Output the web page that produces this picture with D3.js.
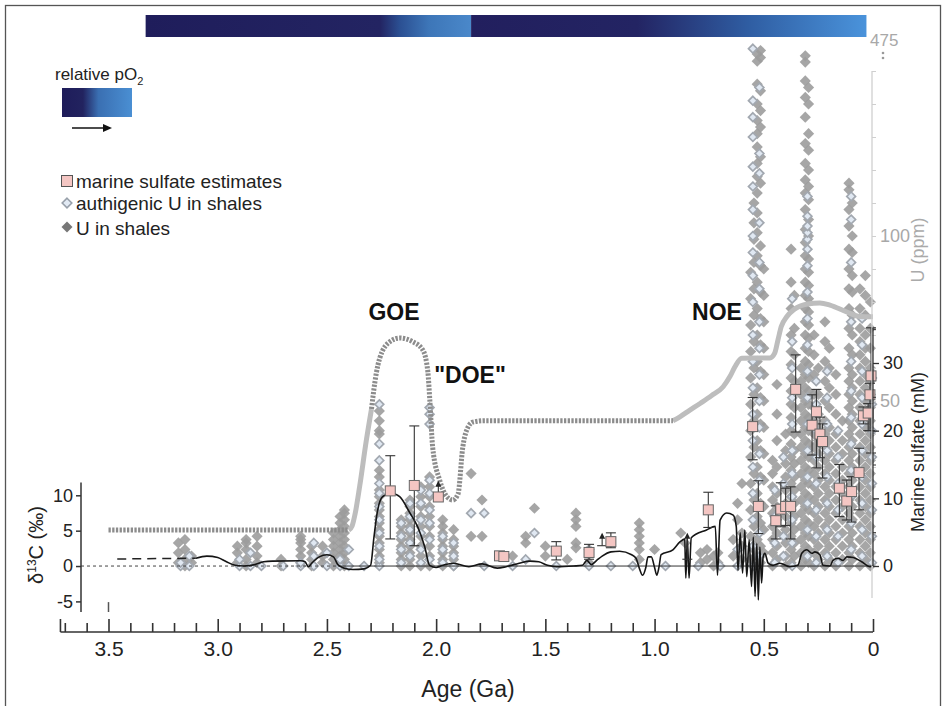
<!DOCTYPE html>
<html>
<head>
<meta charset="utf-8">
<script src="https://cdn.jsdelivr.net/npm/d3@7"></script>
<style>
  body { margin: 0; background: #fff; }
  svg { display: block; font-family: "Liberation Sans", Arial, Helvetica, sans-serif; }
</style>
</head>
<body>
<svg id="chart" width="947" height="706"></svg>
<script>
// ---- data ----
const ageTicks = [3.5, 3.0, 2.5, 2.0, 1.5, 1.0, 0.5, 0];
const d13Ticks = [-5, 0, 5, 10];
const sulfTicks = [0, 10, 20, 30];
const uLabelTicks = [50, 100];

// carbon isotope curve [age Ga, d13C permil]
const d13Dashed = [[3.46, 1.0], [3.1, 1.1]];
const d13Curve = [
  [3.1, 1.1], [3.05, 1.4], [3.0, 1.2], [2.96, 0.6], [2.92, 0.1], [2.88, 0.0], [2.83, 0.2], [2.79, 0.6],
  [2.75, 0.7], [2.62, 0.75], [2.6, 0.6], [2.585, -0.1], [2.57, 0.4], [2.535, 1.3], [2.5, 1.6], [2.47, 1.3],
  [2.45, 0.2], [2.42, -0.3], [2.38, -0.5], [2.33, -0.4], [2.3, 0.1], [2.285, 4], [2.27, 7.5], [2.245, 9.8],
  [2.205, 10.3], [2.167, 9.8], [2.12, 7.5], [2.084, 5.5], [2.052, 2.7], [2.03, 0.1], [2.0, -0.2], [1.97, 0.1],
  [1.92, 0.4], [1.85, -0.1], [1.79, 0.3], [1.72, -0.3], [1.68, -0.1], [1.62, 0.4], [1.57, 0.7], [1.53, 0.6],
  [1.49, 0.1], [1.45, -0.1], [1.37, 0], [1.33, 0.1], [1.31, 0.8], [1.29, 0.2], [1.265, 0.8], [1.24, 1.4],
  [1.2, 2.0], [1.16, 2.1], [1.105, 1.6], [1.085, 1.1], [1.07, -0.3], [1.055, -1.3], [1.04, -0.2], [1.03, 1.3],
  [1.015, 1.3], [1.0, -0.2], [0.99, -1.3], [0.98, -0.2], [0.97, 1.6], [0.916, 2.3], [0.884, 3.4], [0.862, 3.8],
  [0.857, -1.7], [0.85, 3.8], [0.842, -1.7], [0.832, 4.0], [0.762, 5.1], [0.722, 5.6], [0.712, -1.3], [0.7, 6.5],
  [0.67, 7.5], [0.64, 7.2], [0.626, 5.6], [0.618, -0.6], [0.608, 4.7], [0.597, -1.0], [0.587, 5.1], [0.578, -1.5],
  [0.567, 3.7], [0.556, -2.9], [0.548, 4.1], [0.54, -4.3], [0.532, 3.2], [0.525, -4.8], [0.518, 2.7], [0.51, -2.4],
  [0.503, 1.3], [0.495, 1.8], [0.48, 0.4], [0.458, 0.1], [0.426, 0.4], [0.38, -0.1], [0.344, 0.1], [0.326, 1.8],
  [0.303, 2.3], [0.28, 1.8], [0.266, 2.0], [0.243, 1.6], [0.229, 0.1], [0.197, 0.0], [0.183, 0.8], [0.16, 1.1],
  [0.137, 0.8], [0.12, 1.3], [0.09, 1.2], [0.052, 0.6], [0.014, -0.1], [0.0, 0.1]
];

// relative oxygen curve [age Ga, relative level 0-1]
const o2Archean = [[3.5, 0.135], [2.4, 0.135]];
const o2GoeRise = [[2.4, 0.135], [2.385, 0.15], [2.37, 0.2], [2.35, 0.3], [2.32, 0.47], [2.296, 0.59]];
const o2Proterozoic = [
  [2.296, 0.59], [2.275, 0.72], [2.258, 0.782], [2.212, 0.843], [2.167, 0.857], [2.107, 0.843], [2.061, 0.812],
  [2.038, 0.73], [2.029, 0.624], [2.016, 0.447], [1.984, 0.323], [1.95, 0.26], [1.924, 0.248], [1.9, 0.27],
  [1.878, 0.447], [1.86, 0.511], [1.832, 0.541], [1.78, 0.546], [0.916, 0.546]
];
const o2Noe = [
  [0.916, 0.546], [0.884, 0.561], [0.84, 0.585], [0.79, 0.612], [0.74, 0.64], [0.686, 0.674], [0.655, 0.712],
  [0.632, 0.749], [0.601, 0.781], [0.472, 0.782], [0.45, 0.8], [0.435, 0.85], [0.42, 0.9], [0.395, 0.937],
  [0.36, 0.965], [0.3, 0.985], [0.243, 0.989], [0.197, 0.981], [0.12, 0.955], [0.06, 0.938], [0.0, 0.937]
];

// marine sulfate estimates (mM)
const sulfAge = [2.21, 2.10, 1.99, 1.71, 1.69, 1.45, 1.30, 1.20, 0.754, 0.551, 0.525, 0.445, 0.422, 0.40, 0.377, 0.354,
  0.279, 0.259, 0.243, 0.231, 0.154, 0.12, 0.098, 0.064, 0.044, 0.022, 0.014, 0.009];
const sulfVal = [11.1, 11.9, 10.2, 1.5, 1.4, 2.2, 2.0, 3.6, 8.3, 20.6, 8.8, 6.7, 8.4, 8.8, 8.8, 26.1,
  20.8, 22.8, 19.5, 18.4, 11.5, 9.6, 11.0, 13.8, 22.2, 22.6, 25.3, 28.1];
const sulfLo = [4.0, 3.0, 10.2, 1.5, 1.4, 0.9, 1.0, 2.7, 5.7, 15.7, 4.8, 4.0, 5.8, 6.0, 4.0, 19.8,
  16.4, 14.5, 16.0, 13.0, 7.3, 6.8, 6.5, 8.3, 21.0, 20.0, 20.0, 16.7];
const sulfHi = [16.3, 20.7, 10.2, 1.5, 1.4, 3.6, 3.2, 4.9, 10.9, 24.9, 12.6, 8.9, 12.3, 11.5, 11.7, 31.2,
  25.3, 26.1, 22.0, 21.0, 15.0, 12.7, 13.2, 17.4, 23.5, 24.0, 27.0, 35.2];
// lower limits drawn as arrows
const minAge = [1.99, 1.24, 0.85];
const minFrom = [10.2, 3.0, 1.0];
const minTo = [12.3, 4.6, 4.6];

// U in shales (ppm), grouped by age
const uShales = [
  [3.18, [1, 4, 7]], [3.15, [0, 2, 5, 8]], [3.12, [1, 3]],
  [2.91, [1, 4, 6]], [2.87, [0, 2, 5, 7, 8]], [2.82, [1, 3, 6, 9]], [2.71, [0, 2]], [2.62, [1, 3, 5, 7, 8, 9]],
  [2.57, [0, 2, 4, 6]], [2.52, [1, 3, 6]], [2.47, [0, 2, 4, 6, 8, 10]], [2.44, [1, 3, 5, 7, 9, 11, 13, 15]],
  [2.42, [0, 2, 4, 6, 8, 10, 12, 14, 16, 17]],
  [2.26, [1, 3, 5, 7, 9, 11, 13, 15, 17, 19, 21, 23, 27, 29, 40, 41, 44, 47]],
  [2.16, [0, 2, 4, 6, 8, 10, 12, 14]], [2.12, [0, 2, 4, 6, 8, 10, 12, 14, 16, 18, 20]],
  [2.07, [0, 3, 6, 9, 12, 15, 18, 21, 24]], [2.03, [0, 3, 6, 9, 12, 15, 18, 21, 24, 27]],
  [1.97, [0, 2, 4, 6, 8, 10, 12, 14]], [1.92, [0, 2, 4, 6, 8, 11]], [1.84, [9, 28]], [1.79, [9, 20]],
  [1.65, [3]], [1.59, [7, 9]], [1.55, [17.5]], [1.5, [3, 6]], [1.4, [2]], [1.36, [5.5, 7, 12, 14, 16]],
  [1.3, [1]], [1.07, [2, 5, 7, 9, 11, 13]], [1.0, [5]], [0.88, [10]], [0.86, [7]], [0.79, [1, 4]],
  [0.76, [2, 5]], [0.73, [0, 3]], [0.71, [1, 4]], [0.64, [3, 8]], [0.62, [14, 19]], [0.6, [2, 6, 10, 25]],
  [0.56, [2, 9, 17, 25, 33, 41, 49, 57, 65, 73, 81, 89]],
  [0.545, [0, 5, 12, 20, 28, 36, 44, 52, 60, 68, 76, 84, 92, 99, 104, 110]],
  [0.53, [3, 8, 15, 22, 30, 38, 46, 54, 62, 70, 78, 86, 94, 101, 107, 113, 118, 122, 127, 131, 135, 140, 146, 260, 340]],
  [0.515, [1, 6, 13, 19, 27, 35, 43, 51, 59, 67, 75, 83, 91, 97, 116, 124, 133, 138, 144, 300, 380]],
  [0.50, [4, 11, 18, 26, 34, 42, 50, 58, 66, 74, 82, 90]],
  [0.46, [0, 4, 8, 12, 16, 20, 24, 28, 32]], [0.44, [2, 6, 10, 14, 18, 22, 30, 38, 46, 55]],
  [0.40, [0, 3, 7, 11, 15, 19, 23, 27, 31, 35, 40]],
  [0.375, [1, 5, 9, 13, 17, 21, 25, 29, 33, 37, 41, 45, 49, 53, 57, 61, 65, 70, 78, 86, 96]],
  [0.36, [3, 7, 11, 15, 19, 23, 27, 31, 35, 40, 48, 56, 64, 72, 82]],
  [0.33, [0, 4, 8, 12, 16, 20, 24, 28, 32, 36, 40, 44, 48, 52, 56, 60]],
  [0.31, [2, 6, 10, 14, 18, 22, 26, 30, 34, 38, 42, 46, 50, 54, 58, 62, 66, 70, 74, 78, 82, 86, 90, 94, 98, 102, 108, 113, 117, 122, 128, 136, 142, 147, 250, 320]],
  [0.295, [1, 5, 9, 13, 17, 21, 25, 29, 33, 37, 41, 45, 49, 53, 57, 61, 65, 69, 73, 77, 81, 85, 89, 93, 100, 105, 111, 115, 120, 126, 131, 140, 145]],
  [0.27, [0, 4, 8, 12, 16, 20, 24, 28, 32, 36, 40, 44, 48, 52, 58, 64, 70]],
  [0.25, [2, 6, 10, 14, 18, 22, 26, 30, 34, 38, 42, 46, 52, 60]],
  [0.22, [0, 4, 8, 12, 16, 20, 24, 28, 32, 36, 40, 44, 50, 56, 62, 68, 74]],
  [0.2, [2, 6, 10, 14, 18, 22, 26, 30, 34, 38, 42, 48, 54, 60, 66]],
  [0.17, [0, 4, 8, 12, 16, 20, 24, 28, 32, 36, 40, 46, 52, 58]],
  [0.14, [2, 6, 10, 14, 18, 22, 26, 30, 34, 38, 44]],
  [0.11, [0, 4, 8, 12, 16, 20, 24, 28, 32, 36, 40, 44, 48, 52, 56, 60, 66, 72, 78, 84, 90, 96, 103, 108, 114, 116]],
  [0.095, [2, 6, 10, 14, 18, 22, 26, 30, 34, 38, 42, 46, 50, 54, 58, 64, 70, 76, 83, 88, 95, 100, 110]],
  [0.06, [0, 4, 8, 12, 16, 20, 24, 28, 32, 36, 40, 44, 48, 52, 56, 60, 64, 68, 72, 78, 84]],
  [0.035, [2, 6, 10, 14, 18, 22, 26, 30, 34, 38, 42, 46, 50, 54, 58, 62, 66, 70, 76, 82, 88]],
  [0.012, [0, 4, 8, 12, 16, 20, 24, 28, 32, 36, 40, 44, 48, 52, 56, 60, 66, 72, 80]]
];

// authigenic U in shales (ppm), grouped by age
const authU = [
  [3.17, [0, 1]], [3.13, [0, 3]], [2.9, [0, 2]], [2.85, [0, 4]], [2.8, [0]], [2.7, [0]], [2.62, [0, 1]],
  [2.56, [0, 3, 7]], [2.5, [0, 4]], [2.44, [0, 2]], [2.4, [0, 5]], [2.33, [0]],
  [2.26, [0, 2, 6, 10, 14, 18, 22, 25, 32, 37, 49]], [2.16, [1, 5, 9, 13]], [2.12, [3, 7, 11, 15, 19]],
  [2.07, [1, 5, 10, 14, 19, 23]], [2.03, [2, 8, 13, 17, 22, 26, 43, 46, 48]], [1.97, [1, 5, 9]],
  [1.92, [0, 3, 7]], [1.84, [16]], [1.78, [16, 0]], [1.65, [0]], [1.59, [2]], [1.55, [10]], [1.45, [0]],
  [1.3, [5, 0]], [1.2, [0]], [1.1, [0]], [0.95, [0]], [0.8, [0]], [0.7, [0]], [0.62, [5, 0]],
  [0.55, [0, 6, 14, 22, 30, 38, 46, 54, 62, 70, 80, 88, 95, 100, 108, 115, 121, 130, 136, 141, 400]],
  [0.52, [3, 10, 18, 26, 34, 42, 50, 58, 66, 74, 84, 92, 104, 119, 125, 145]],
  [0.45, [1, 7, 15, 23]], [0.41, [3, 9, 17, 25, 33]],
  [0.37, [0, 7, 14, 21, 28, 35, 43, 51, 60, 68, 81]],
  [0.3, [3, 11, 19, 27, 35, 43, 51, 59, 67, 75, 83, 91, 96, 99, 101, 103, 106, 112]],
  [0.26, [1, 9, 17, 25, 33, 41, 49, 56]], [0.21, [3, 11, 19, 27, 35, 43, 51, 59]],
  [0.16, [1, 9, 17, 25, 33, 41]], [0.1, [5, 13, 21, 29, 37, 45, 53, 62, 74, 92, 105, 112]],
  [0.05, [3, 11, 19, 27, 35, 43, 51, 59, 67, 75]], [0.005, [1, 9, 17, 25, 33, 41, 49, 57]]
];

// ---- scales ----
const svg = d3.select("#chart");
const x = d3.scaleLinear().domain([3.5, 0]).range([108.5, 873]);
const yD = d3.scaleLinear().domain([-5, 10]).range([601.4, 495.3]);
const yS = d3.scaleLinear().domain([0, 30]).range([566, 363]);
const yU = d3.scaleLinear().domain([0, 150, 475]).range([566, 71, 42]);
const yO = d3.scaleLinear().domain([0, 1]).range([566, 300]);

const defs = svg.append("defs");
function grad(id, stops) {
  const g = defs.append("linearGradient").attr("id", id);
  stops.forEach(s => g.append("stop").attr("offset", s[0]).attr("stop-color", s[1]));
}
grad("barA", [[0, "#1f1d5b"], [0.72, "#232462"], [0.78, "#2b4f92"], [0.87, "#3d76b8"], [1, "#4a88ca"]]);
grad("barB", [[0, "#221f5e"], [0.42, "#232463"], [0.7, "#2f5da2"], [1, "#4a93db"]]);
grad("swatch", [[0, "#1e1c5a"], [0.3, "#22235f"], [0.52, "#3a6fb2"], [1, "#4a8fd3"]]);

// frame
svg.append("rect").attr("x", 5.5).attr("y", 5.5).attr("width", 935).attr("height", 720)
  .attr("fill", "none").attr("stroke", "#555").attr("stroke-width", 1.3);

// top pO2 bar
svg.append("rect").attr("x", x(3.33)).attr("y", 15).attr("width", x(1.84) - x(3.33)).attr("height", 22).attr("fill", "url(#barA)");
svg.append("rect").attr("x", x(1.84)).attr("y", 15).attr("width", x(0.03) - x(1.84)).attr("height", 22).attr("fill", "url(#barB)");

// legend
const lt = svg.append("text").attr("x", 55).attr("y", 80).attr("font-size", 17).attr("fill", "#222");
lt.append("tspan").text("relative pO");
lt.append("tspan").attr("font-size", 11).attr("dy", 5).text("2");
svg.append("rect").attr("x", 62).attr("y", 88).attr("width", 70).attr("height", 29).attr("fill", "url(#swatch)");
svg.append("line").attr("x1", 72).attr("x2", 106).attr("y1", 128).attr("y2", 128).attr("stroke", "#111").attr("stroke-width", 1.3);
svg.append("path").attr("d", "M112,128 L103,124 L103,132 Z").attr("fill", "#111");

const diamond = r => `M0,${-r}L${r},0L0,${r}L${-r},0Z`;
svg.append("rect").attr("x", 61.5).attr("y", 175.5).attr("width", 11).attr("height", 11)
  .attr("fill", "#f4c6c3").attr("stroke", "#555");
svg.append("path").attr("d", diamond(4.8)).attr("transform", "translate(67,203)")
  .attr("fill", "#e2eaf4").attr("stroke", "#98a0aa").attr("stroke-width", 1.6);
svg.append("path").attr("d", diamond(5.5)).attr("transform", "translate(67,227)").attr("fill", "#777");
[["marine sulfate estimates", 181], ["authigenic U in shales", 203], ["U in shales", 228]].forEach(d => {
  svg.append("text").attr("x", 76).attr("y", d[1]).attr("dy", "0.36em").attr("font-size", 19)
    .attr("fill", "#222").text(d[0]);
});

// ---- scatter ----
const flat = cols => cols.flatMap(c => c[1].map(v => [c[0], v]));
svg.append("g").selectAll("path").data(flat(uShales)).join("path")
  .attr("d", diamond(5.6))
  .attr("transform", d => `translate(${x(d[0])},${yU(d[1])})`)
  .attr("fill", "#9c9c9c").attr("fill-opacity", 0.9);
svg.append("g").selectAll("path").data(flat(authU)).join("path")
  .attr("d", diamond(4.4))
  .attr("transform", d => `translate(${x(d[0])},${yU(d[1])})`)
  .attr("fill", "#e0e8f2").attr("stroke", "#a2a8b0").attr("stroke-width", 1.7);

// ---- oxygen curve ----
const lineO = d3.line().x(d => x(d[0])).y(d => yO(d[1])).curve(d3.curveMonotoneX);
[[o2GoeRise, false], [o2Noe, false], [o2Archean, true], [o2Proterozoic, true]].forEach(s => {
  svg.append("path").attr("d", lineO(s[0])).attr("fill", "none")
    .attr("stroke", s[1] ? "#8c8c8c" : "#bdbdbd").attr("stroke-width", 5)
    .attr("stroke-dasharray", s[1] ? "2.3,1.4" : null);
});

// ---- zero line and d13C curve ----
svg.append("line").attr("x1", 81).attr("x2", x(2.45)).attr("y1", yD(0)).attr("y2", yD(0))
  .attr("stroke", "#444").attr("stroke-width", 1).attr("stroke-dasharray", "3,3");
svg.append("line").attr("x1", x(2.45)).attr("x2", x(0)).attr("y1", yD(0)).attr("y2", yD(0))
  .attr("stroke", "#333").attr("stroke-width", 1);
const lineD = d3.line().x(d => x(d[0])).y(d => yD(d[1])).curve(d3.curveMonotoneX);
svg.append("path").attr("d", lineD(d13Dashed)).attr("fill", "none").attr("stroke", "#222")
  .attr("stroke-width", 1.5).attr("stroke-dasharray", "9,6");
svg.append("path").attr("d", lineD(d13Curve)).attr("fill", "none").attr("stroke", "#151515").attr("stroke-width", 1.6);

// ---- sulfate error bars and squares ----
const eb = svg.append("g").attr("stroke", "#333").attr("stroke-width", 1.1);
sulfAge.forEach((a, i) => {
  if (sulfHi[i] - sulfLo[i] < 0.01) return;
  const cx = x(a);
  eb.append("line").attr("x1", cx).attr("x2", cx).attr("y1", yS(sulfLo[i])).attr("y2", yS(sulfHi[i]));
  [sulfLo[i], sulfHi[i]].forEach(v => eb.append("line").attr("x1", cx - 5).attr("x2", cx + 5).attr("y1", yS(v)).attr("y2", yS(v)));
});
minAge.forEach((a, i) => {
  const cx = x(a);
  eb.append("line").attr("x1", cx).attr("x2", cx).attr("y1", yS(minFrom[i])).attr("y2", yS(minTo[i]));
  eb.append("line").attr("x1", cx - 5).attr("x2", cx + 5).attr("y1", yS(minFrom[i])).attr("y2", yS(minFrom[i]));
  svg.append("path").attr("d", `M${cx},${yS(minTo[i]) - 2}l-3,6h6z`).attr("fill", "#222");
});
svg.append("g").selectAll("rect").data(sulfAge).join("rect")
  .attr("x", d => x(d) - 5).attr("y", (d, i) => yS(sulfVal[i]) - 5)
  .attr("width", 10).attr("height", 10)
  .attr("fill", "#f4c6c3").attr("stroke", "#666").attr("stroke-width", 1);

// ---- axes ----
const fmtAge = d => d === 0 ? "0" : d3.format(".1f")(d);
const gx = svg.append("g").attr("transform", "translate(0,632)")
  .call(d3.axisBottom(x).tickValues(ageTicks).tickSizeInner(-13).tickSizeOuter(0).tickPadding(9).tickFormat(fmtAge));
gx.select(".domain").remove();
const minorAges = d3.range(0, 38).map(i => +(i / 10).toFixed(1)).filter(v => ageTicks.indexOf(v) < 0);
const gxm = svg.append("g").attr("transform", "translate(0,632)")
  .call(d3.axisBottom(x).tickValues(minorAges).tickSizeInner(-9).tickSizeOuter(0).tickFormat(""));
gxm.select(".domain").remove();
svg.append("line").attr("x1", x(3.72)).attr("x2", x(0)).attr("y1", 632).attr("y2", 632).attr("stroke", "#333").attr("stroke-width", 1.6);
svg.append("line").attr("x1", x(3.72)).attr("x2", x(3.72)).attr("y1", 619).attr("y2", 632).attr("stroke", "#333").attr("stroke-width", 1.6);
[gx, gxm].forEach(g => g.selectAll("line").attr("stroke", "#333").attr("stroke-width", 1.6));
gx.selectAll("text").attr("font-size", 21).attr("fill", "#222").attr("font-family", null);
svg.append("text").attr("x", 468).attr("y", 697).attr("text-anchor", "middle").attr("font-size", 23)
  .attr("fill", "#222").text("Age (Ga)");

// left d13C axis
const gl = svg.append("g").attr("transform", "translate(81,0)")
  .call(d3.axisLeft(yD).tickValues(d13Ticks).tickSize(5).tickPadding(3).tickFormat(d => String(d)));
gl.select(".domain").remove();
gl.selectAll("line").attr("stroke", "#333").attr("stroke-width", 1.5);
gl.selectAll("text").attr("font-size", 18).attr("fill", "#222").attr("font-family", null);
svg.append("line").attr("x1", 81).attr("x2", 81).attr("y1", yD(11.8)).attr("y2", yD(-6.5)).attr("stroke", "#333").attr("stroke-width", 1.5);
svg.append("line").attr("x1", x(3.5)).attr("x2", x(3.5)).attr("y1", yD(-5.1)).attr("y2", yD(-6.5)).attr("stroke", "#555").attr("stroke-width", 1.5);
const dl = svg.append("text").attr("transform", "translate(43,545) rotate(-90)").attr("text-anchor", "middle")
  .attr("font-size", 20).attr("fill", "#222");
dl.append("tspan").text("δ");
dl.append("tspan").attr("font-size", 12).attr("dy", -7).text("13");
dl.append("tspan").attr("dy", 7).text("C (‰)");

// right U axis (grey)
svg.append("line").attr("x1", 872).attr("x2", 872).attr("y1", yU(150)).attr("y2", 598).attr("stroke", "#cfcfcf").attr("stroke-width", 1.3);
const gu = svg.append("g").attr("transform", "translate(872,0)")
  .call(d3.axisRight(yU).tickValues(d3.range(0, 160, 10)).tickSize(4).tickFormat(""));
gu.select(".domain").remove();
gu.selectAll("line").attr("stroke", "#cfcfcf");
uLabelTicks.forEach(v => svg.append("text").attr("x", 880).attr("y", yU(v)).attr("dy", "0.36em")
  .attr("font-size", 18).attr("fill", "#a8a8a8").text(v));
svg.append("text").attr("x", 870).attr("y", 46).attr("font-size", 17).attr("fill", "#a8a8a8").text("475");
[53, 58].forEach(v => svg.append("circle").attr("cx", 883).attr("cy", v).attr("r", 1.3).attr("fill", "#999"));
svg.append("text").attr("transform", "translate(924,250) rotate(-90)").attr("text-anchor", "middle")
  .attr("font-size", 18).attr("fill", "#aaa").text("U (ppm)");

// right sulfate axis
svg.append("line").attr("x1", 873).attr("x2", 873).attr("y1", yS(0)).attr("y2", yS(35.2)).attr("stroke", "#333").attr("stroke-width", 1.3);
const gs = svg.append("g").attr("transform", "translate(873,0)")
  .call(d3.axisRight(yS).tickValues(sulfTicks).tickSize(6).tickPadding(4).tickFormat(d => String(d)));
gs.select(".domain").remove();
gs.selectAll("line").attr("stroke", "#333").attr("stroke-width", 1.3);
gs.selectAll("text").attr("font-size", 18).attr("fill", "#222").attr("font-family", null);
const gsm = svg.append("g").attr("transform", "translate(873,0)")
  .call(d3.axisRight(yS).tickValues([5, 15, 25, 35]).tickSize(3).tickFormat(""));
gsm.select(".domain").remove();
gsm.selectAll("line").attr("stroke", "#333");
svg.append("text").attr("transform", "translate(924,452) rotate(-90)").attr("text-anchor", "middle")
  .attr("font-size", 18).attr("fill", "#222").text("Marine sulfate (mM)");

// event labels
[["GOE", 394, 320], ["\"DOE\"", 470, 383], ["NOE", 717, 320]].forEach(d => {
  svg.append("text").attr("x", d[1]).attr("y", d[2]).attr("text-anchor", "middle").attr("font-size", 23)
    .attr("font-weight", "bold").attr("fill", "#111").text(d[0]);
});
</script>
</body>
</html>
